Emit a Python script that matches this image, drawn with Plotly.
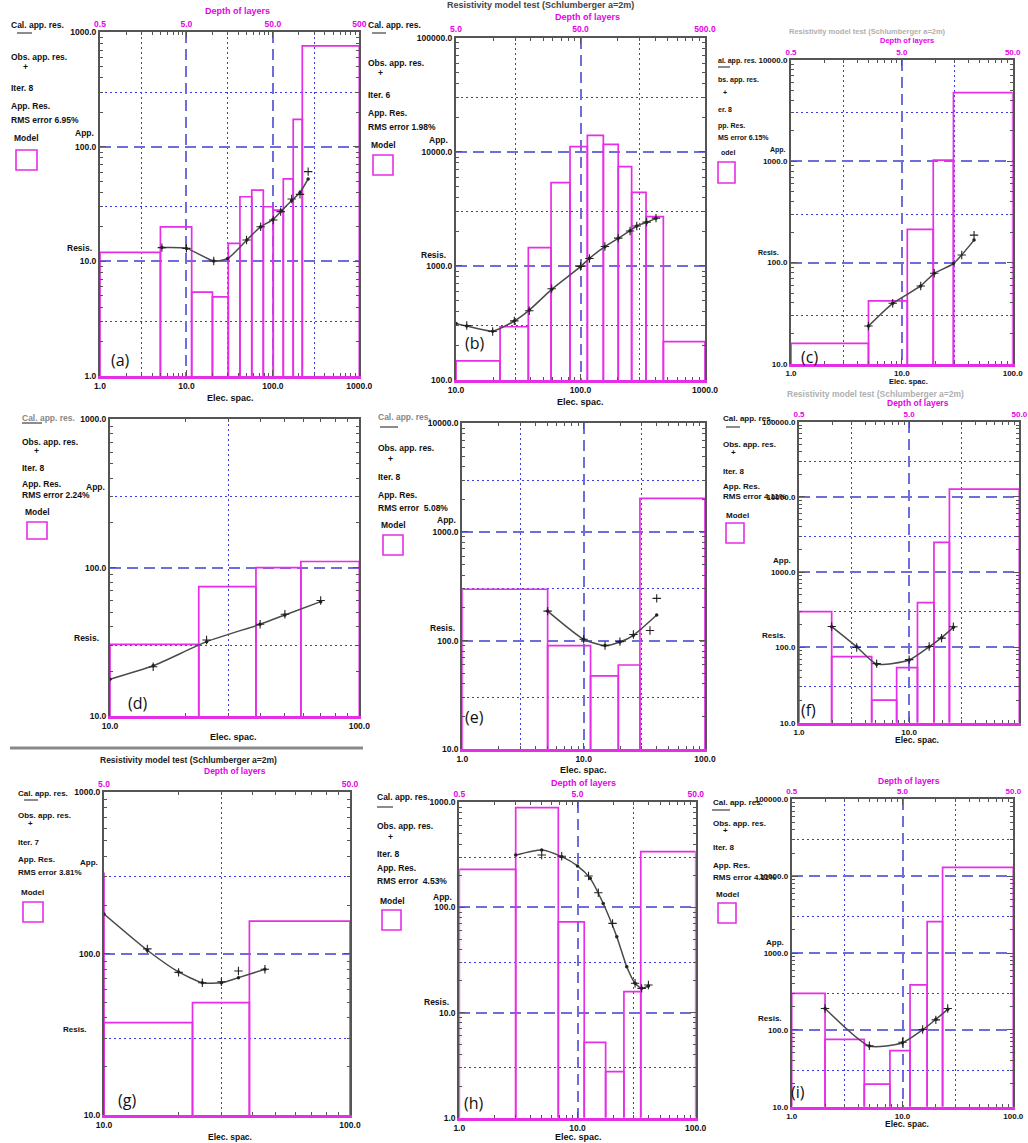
import plotly.graph_objects as go

W, H = 1028, 1143
FONT = "Liberation Sans, Arial, sans-serif"
MAG = "#e52ee5"
DASH_C = "#6d6ddc"
DOT_C = "#3b3bec"
FRAME_C = "#555555"
CAL_C = "#4a4a4a"

# ---------------- data ----------------
# layer edges are in electrode-spacing units (depth = spacing / 2)
A_EDGES = [1, 5.0, 11.5, 20, 30.5, 41.6, 57, 77.5, 101, 132, 172, 219, 1000]
A_RHO = [12, 20, 5.4, 4.9, 14.4, 36.7, 42, 30, 28, 52.5, 174, 760]
A_CAL_X = [5.2, 10, 20.7, 30, 50, 72, 100, 125, 165, 206, 256]
A_CAL_Y = [13.2, 13.0, 10.1, 10.6, 15.4, 20, 23.2, 27.5, 34, 40, 52.5]
A_OBS_X = [5.2, 10, 20.7, 49.6, 72.2, 101, 123, 165, 206, 256]
A_OBS_Y = [13.2, 13.0, 10.1, 15.4, 20.1, 23.0, 27.2, 35.1, 38.5, 60.8]
A_XTICK = ["1.0", "10.0", "100.0", "1000.0"]
A_DEPTH = ["0.5", "5.0", "50.0", "500"]
A_YTICK = ["1.0", "10.0", "100.0", "1000.0"]
A_LEGEND = ["Cal. app. res.", "Obs. app. res.", "Iter. 8", "App. Res.", "RMS error 6.95%", "Model"]

B_EDGES = [10, 22.6, 38.1, 58, 82.4, 113.5, 152.6, 201, 257.5, 336, 463, 1000]
B_RHO = [147, 293, 1445, 5360, 11090, 13930, 11620, 7400, 4410, 2700, 217]
B_CAL_X = [10, 12.2, 19.7, 29.4, 38.8, 58.7, 100, 118, 157, 201, 250, 283, 340, 404]
B_CAL_Y = [313, 297, 268, 329, 410, 623, 985, 1165, 1473, 1743, 2035, 2238, 2410, 2612]
B_OBS_X = [12.2, 19.7, 29.4, 38.8, 58.7, 100, 118, 157, 201, 250, 283, 340, 404]
B_OBS_Y = [300, 266, 330, 405, 630, 990, 1160, 1480, 1750, 2020, 2240, 2420, 2620]
B_XTICK = ["10.0", "100.0", "1000.0"]
B_DEPTH = ["5.0", "50.0", "500.0"]
B_YTICK = ["100.0", "1000.0", "10000.0", "100000.0"]
B_LEGEND = ["Cal. app. res.", "Obs. app. res.", "Iter. 6", "App. Res.", "RMS error 1.98%", "Model"]

C_EDGES = [1, 5.0, 11.2, 19.2, 29.2, 100]
C_RHO = [16, 42, 213, 1030, 4760]
C_CAL_X = [5.0, 8.27, 14.8, 19.6, 29.2, 44.8]
C_CAL_Y = [23.7, 39.7, 58.9, 78.5, 98, 167]
C_OBS_X = [5.0, 8.27, 14.8, 19.6, 34.7, 44.8]
C_OBS_Y = [23.7, 39.7, 58.9, 78.5, 119, 187]
C_XTICK = ["1.0", "10.0", "100.0"]
C_DEPTH = ["0.5", "5.0", "50.0"]
C_YTICK = ["10.0", "100.0", "1000.0", "10000.0"]
C_LEGEND = ["al. app. res.", "bs. app. res.", "er. 8", "pp. Res.", "MS error 6.15%", "odel"]

D_EDGES = [10, 22.7, 38.5, 58.3, 100]
D_RHO = [30.4, 74.5, 100, 110]
D_CAL_X = [10, 14.9, 24.4, 40, 50.3, 70]
D_CAL_Y = [17.7, 21.8, 31.7, 41.5, 48, 59]
D_OBS_X = [14.9, 24.4, 40, 50.3, 70]
D_OBS_Y = [21.5, 32.5, 41.5, 48.5, 60]
D_XTICK = ["10.0", "100.0"]
D_DEPTH = None
D_YTICK = ["10.0", "100.0", "1000.0"]
D_LEGEND = ["Cal. app. res.", "Obs. app. res.", "Iter. 8", "App. Res.", "RMS error 2.24%", "Model"]

E_EDGES = [1, 5.05, 11.4, 19.3, 29.1, 100]
E_RHO = [297, 90, 47.3, 59.7, 2040]
E_CAL_X = [5.05, 10, 15, 19.9, 25.7, 40]
E_CAL_Y = [187, 103, 90, 97, 112, 172]
E_OBS_X = [5.05, 10, 15, 19.9, 25.7, 35.2, 40]
E_OBS_Y = [187, 103, 90, 98, 114, 124, 245]
E_XTICK = ["1.0", "10.0", "100.0"]
E_DEPTH = None
E_YTICK = ["10.0", "100.0", "1000.0", "10000.0"]
E_LEGEND = ["Cal. app. res.", "Obs. app. res.", "Iter. 8", "App. Res.", "RMS error  5.08%", "Model"]

F_EDGES = [1, 1.98, 4.57, 7.7, 11.9, 16.8, 23.2, 100]
F_RHO = [300, 75.4, 20, 53.8, 393, 2490, 12740]
F_CAL_X = [1.98, 3.34, 5.07, 10, 15.2, 19.7, 25.2]
F_CAL_Y = [189, 102, 60, 68, 102, 135, 185]
F_OBS_X = [1.98, 3.34, 5.07, 10, 15.2, 19.7, 25.2]
F_OBS_Y = [190, 100, 61, 69, 103, 133, 188]
F_XTICK = ["1.0", "10.0", "100.0"]
F_DEPTH = ["0.5", "5.0", "50.0"]
F_YTICK = ["10.0", "100.0", "1000.0", "10000.0", "100000.0"]
F_LEGEND = ["Cal. app. res.", "Obs. app. res.", "Iter. 8", "App. Res.", "RMS error 4.11%", "Model"]

G_EDGES = [9, 10, 22.9, 39, 100]
G_RHO = [315, 37.4, 49.7, 159]
G_CAL_X = [10, 15, 20.1, 25.1, 30, 35.2, 45.1]
G_CAL_Y = [176, 105, 77, 66, 66, 71, 80]
G_OBS_X = [15, 20.1, 25.1, 30, 35.2, 45.1]
G_OBS_Y = [107, 76.6, 66, 67, 78, 80]
G_XTICK = ["10.0", "100.0"]
G_DEPTH = ["5.0", "50.0"]
G_YTICK = ["10.0", "100.0", "1000.0"]
G_LEGEND = ["Cal. app. res.", "Obs. app. res.", "Iter. 7", "App. Res.", "RMS error 3.81%", "Model"]

H_EDGES = [1, 3.0, 6.88, 11.4, 17.3, 24.7, 34.3, 100]
H_RHO = [230, 890, 73, 5.2, 2.74, 15.8, 339]
H_CAL_X = [3.0, 4.98, 7.35, 10, 12.8, 16.5, 21.5, 26.1, 30.7, 34.9, 39.8]
H_CAL_Y = [315, 352, 304, 248, 189, 109, 52.7, 27.3, 19, 17, 17.9]
H_OBS_X = [4.98, 7.35, 12.4, 15, 19.8, 30.7, 34.9, 39.8]
H_OBS_Y = [315, 307, 199, 138, 70.6, 19, 17, 18.3]
H_XTICK = ["1.0", "10.0", "100.0"]
H_DEPTH = ["0.5", "5.0", "50.0"]
H_YTICK = ["1.0", "10.0", "100.0", "1000.0"]
H_LEGEND = ["Cal. app. res.", "Obs. app. res.", "Iter. 8", "App. Res.", "RMS error  4.53%", "Model"]

I_EDGES = [1, 2.0, 4.52, 7.7, 11.7, 16.7, 23, 100]
I_RHO = [299, 75.2, 19.7, 53.6, 384, 2560, 13030]
I_CAL_X = [2.0, 5.02, 10, 15.2, 20, 25.6]
I_CAL_Y = [190, 61.6, 68, 100, 137, 185]
I_OBS_X = [2.0, 5.02, 10, 15.2, 20, 25.6]
I_OBS_Y = [190, 62, 69, 101, 135, 190]
I_XTICK = ["1.0", "10.0", "100.0"]
I_DEPTH = ["0.5", "5.0", "50.0"]
I_YTICK = ["10.0", "100.0", "1000.0", "10000.0", "100000.0"]
I_LEGEND = ["Cal. app. res.", "Obs. app. res.", "Iter. 8", "App. Res.", "RMS error 4.11%", "Model"]

TITLE = "Resistivity model test (Schlumberger a=2m)"
DEPTH_TITLE = "Depth of layers"
X_TITLE = "Elec. spac."
APP_LBL = "App."
RES_LBL = "Resis."

# ---------------- geometry (pixels in the 1028x1143 page) ----------------
GEOM = {
    "a": dict(box=(100, 32.3, 359.3, 376), xr=(0, 3), yr=(0, 3), leg_x=10, fs=8.5, ts=8.5,
              leg_y=(25, 33, 57, 67, 88, 106, 120, 138, 150, 170), ul=(17, 32), plus_x=25, bx=(16, 37),
              app=(95, 133), resis=(93, 248), elec=(230, 398), depth=(237, 11), title=None, letter=(120, 360)),
    "b": dict(box=(456, 37.7, 705, 380), xr=(1, 3), yr=(2, 5), leg_x=367, fs=8.5, ts=8.5,
              leg_y=(25, 33, 63, 73, 95, 113, 127, 145, 155, 175), ul=(372, 386), plus_x=380, bx=(373, 393),
              app=(449, 140), resis=(447, 255), elec=(580, 402), depth=(587, 17), title=(540, 5, "#444"),
              letter=(475, 343)),
    "c": dict(box=(791, 60, 1012.7, 364), xr=(0, 2), yr=(1, 4), leg_x=717, fs=7, ts=8,
              leg_y=(61, 67, 80, 92, 110, 126, 137, 153, 162, 183), ul=(718, 730), plus_x=725, bx=(718, 735),
              app=(787, 150), resis=(780, 253), elec=(908, 382), depth=(907, 41), title=(867, 31, "#b0b0b0"),
              letter=(809, 357)),
    "d": dict(box=(110, 419.3, 359.3, 716), xr=(1, 2), yr=(1, 3), leg_x=21, fs=8.5, ts=8.5,
              leg_y=(418, 423, 442, 451, 468, 484, 495, 512, 522, 539), ul=(22, 42), plus_x=36, bx=(27, 47),
              app=(106, 487), resis=(100, 638), elec=(233, 737), depth=None, title=None, letter=(138, 703)),
    "e": dict(box=(462.3, 423.3, 705, 749.3), xr=(0, 2), yr=(1, 4), leg_x=377, fs=8.5, ts=8.5,
              leg_y=(417, 427, 448, 459, 477, 495, 508, 525, 535, 555), ul=(380, 398), plus_x=390, bx=(383, 403),
              app=(457, 520), resis=(456, 628), elec=(583, 770), depth=None, title=None, letter=(474, 717)),
    "f": dict(box=(799, 421.7, 1019.3, 722.7), xr=(0, 2), yr=(1, 5), leg_x=722, fs=8, ts=8,
              leg_y=(418, 427, 444, 452, 471, 486, 497, 515, 523, 543), ul=(726, 740), plus_x=733, bx=(726, 744),
              app=(792, 560), resis=(787, 635), elec=(917, 740), depth=(918, 403), title=(875, 394, "#b0b0b0"),
              letter=(808, 710)),
    "g": dict(box=(104, 792.3, 350, 1115), xr=(1, 2), yr=(1, 3), leg_x=17, fs=8, ts=8.5,
              leg_y=(793, 800, 815, 823, 843, 859, 872, 892, 902, 922), ul=(24, 38), plus_x=30, bx=(23, 43),
              app=(99, 862), resis=(88, 1029), elec=(230, 1137), depth=(235, 771), title=(188, 760, "#222"),
              letter=(127, 1100)),
    "h": dict(box=(459.3, 802.3, 695.7, 1117.7), xr=(0, 2), yr=(0, 3), leg_x=376, fs=8.5, ts=8.5,
              leg_y=(797, 807, 826, 837, 854, 868, 881, 901, 910, 930), ul=(377, 393), plus_x=390, bx=(382, 401),
              app=(453, 897), resis=(450, 1002), elec=(578, 1137), depth=(583, 783), title=None,
              letter=(474, 1103)),
    "i": dict(box=(791.7, 799.3, 1013.3, 1106.7), xr=(0, 2), yr=(1, 5), leg_x=712, fs=8, ts=8,
              leg_y=(802, 810, 823, 830, 847, 865, 877, 894, 903, 923), ul=(712, 730), plus_x=725, bx=(718, 736),
              app=(785, 942), resis=(783, 1018), elec=(907, 1124), depth=(909, 781), title=None,
              letter=(798, 1092)),
}

PANELS = [
    ("a", A_EDGES, A_RHO, A_CAL_X, A_CAL_Y, A_OBS_X, A_OBS_Y, A_XTICK, A_DEPTH, A_YTICK, A_LEGEND),
    ("b", B_EDGES, B_RHO, B_CAL_X, B_CAL_Y, B_OBS_X, B_OBS_Y, B_XTICK, B_DEPTH, B_YTICK, B_LEGEND),
    ("c", C_EDGES, C_RHO, C_CAL_X, C_CAL_Y, C_OBS_X, C_OBS_Y, C_XTICK, C_DEPTH, C_YTICK, C_LEGEND),
    ("d", D_EDGES, D_RHO, D_CAL_X, D_CAL_Y, D_OBS_X, D_OBS_Y, D_XTICK, D_DEPTH, D_YTICK, D_LEGEND),
    ("e", E_EDGES, E_RHO, E_CAL_X, E_CAL_Y, E_OBS_X, E_OBS_Y, E_XTICK, E_DEPTH, E_YTICK, E_LEGEND),
    ("f", F_EDGES, F_RHO, F_CAL_X, F_CAL_Y, F_OBS_X, F_OBS_Y, F_XTICK, F_DEPTH, F_YTICK, F_LEGEND),
    ("g", G_EDGES, G_RHO, G_CAL_X, G_CAL_Y, G_OBS_X, G_OBS_Y, G_XTICK, G_DEPTH, G_YTICK, G_LEGEND),
    ("h", H_EDGES, H_RHO, H_CAL_X, H_CAL_Y, H_OBS_X, H_OBS_Y, H_XTICK, H_DEPTH, H_YTICK, H_LEGEND),
    ("i", I_EDGES, I_RHO, I_CAL_X, I_CAL_Y, I_OBS_X, I_OBS_Y, I_XTICK, I_DEPTH, I_YTICK, I_LEGEND),
]

fig = go.Figure()
annotations = []
shapes = []
axes = {}


def px(x):
    return x / W


def py(y):
    return 1 - y / H


def text(x, y, s, size=8, color="#111", xanchor="left", weight="bold", family=FONT):
    annotations.append(dict(x=px(x), y=py(y), xref="paper", yref="paper", text=s, showarrow=False,
                            xanchor=xanchor, yanchor="middle", borderpad=0,
                            font=dict(family=family, size=size, color=color, weight=weight)))


def sfx(k):
    return "" if k == 1 else str(k)


def decades(lo, hi):
    return [10 ** d for d in range(lo, hi + 1)]


def minors(lo, hi, mults):
    return [m * 10 ** d for d in range(lo, hi) for m in mults]


for k, (key, edges, rho, cx, cy, ox, oy, xt, dt, yt, leg) in enumerate(PANELS, start=1):
    g = GEOM[key]
    L, T, R, B = g["box"]
    xr, yr = g["xr"], g["yr"]
    fs, ts = g["fs"], g["ts"]
    tickfont = dict(family=FONT, size=ts, color="#111", weight="bold")
    xa, ya = "x" + sfx(k), "y" + sfx(k)
    xa_top, xa_bot, ya_r = "x" + str(k + 9), "x" + str(k + 18), "y" + str(k + 9)
    ymin = 10 ** yr[0]

    # model layers
    mx, my = [], []
    for i, r in enumerate(rho):
        x0, x1 = edges[i], edges[i + 1]
        mx += [x0, x0, x1, x1, None]
        my += [ymin, r, r, ymin, None]
    fig.add_trace(go.Scatter(x=mx, y=my, mode="lines", xaxis=xa, yaxis=ya,
                             line=dict(color=MAG, width=1.7), hoverinfo="skip"))
    # calculated curve
    fig.add_trace(go.Scatter(x=cx, y=cy, mode="lines+markers", xaxis=xa, yaxis=ya,
                             line=dict(color=CAL_C, width=1.5, shape="spline", smoothing=0.6),
                             marker=dict(size=3.5, color="#222")))
    # observed
    fig.add_trace(go.Scatter(x=ox, y=oy, mode="markers", xaxis=xa, yaxis=ya,
                             marker=dict(symbol="cross-thin", size=6, line=dict(width=1.1, color="#222"))))
    # transparent anchors so the frame / tick axes get drawn
    for axx, axy in ((xa_top, ya), (xa_bot, ya), (xa, ya_r)):
        fig.add_trace(go.Scatter(x=ox[:1], y=oy[:1], mode="markers", xaxis=axx, yaxis=axy,
                                 marker=dict(opacity=0), hoverinfo="skip"))

    xdec = decades(xr[0], xr[1])
    ydec = decades(yr[0], yr[1])
    xdom = [px(L), px(R)]
    ydom = [py(B), py(T)]

    axes["xaxis" + sfx(k)] = dict(
        type="log", range=list(xr), domain=xdom, anchor=ya, side="bottom",
        tickmode="array", tickvals=xdec, ticktext=xt, tickfont=tickfont, ticks="",
        showline=True, linecolor=MAG, linewidth=2.5,
        showgrid=True, gridcolor=DASH_C, griddash="11px,6px", gridwidth=1.7,
        minor=dict(tickmode="array", tickvals=minors(xr[0], xr[1], [3]), showgrid=True,
                   gridcolor=DOT_C, griddash="2px,3px", gridwidth=1.3, ticks=""),
        zeroline=False, fixedrange=True)
    axes["xaxis" + str(k + 9)] = dict(
        type="log", range=list(xr), anchor=ya, overlaying=xa, side="top",
        tickmode="array", tickvals=xdec, ticktext=dt if dt else [""] * len(xdec),
        showticklabels=dt is not None,
        tickfont=dict(family=FONT, size=ts, color="#e600e6", weight="bold"),
        ticks="inside", ticklen=6, tickcolor=FRAME_C, tickwidth=1,
        showline=True, linecolor=FRAME_C, linewidth=2, showgrid=False,
        minor=dict(tickmode="array", tickvals=minors(xr[0], xr[1], range(2, 10)), ticks="inside",
                   ticklen=3, tickcolor=FRAME_C, showgrid=False),
        zeroline=False, fixedrange=True)
    axes["xaxis" + str(k + 18)] = dict(
        type="log", range=list(xr), anchor=ya, overlaying=xa, side="bottom",
        tickmode="array", tickvals=xdec, showticklabels=False,
        ticks="inside", ticklen=6, tickcolor=FRAME_C, tickwidth=1,
        showline=False, showgrid=False,
        minor=dict(tickmode="array", tickvals=minors(xr[0], xr[1], range(2, 10)), ticks="inside",
                   ticklen=3, tickcolor=FRAME_C, showgrid=False),
        zeroline=False, fixedrange=True)
    axes["yaxis" + sfx(k)] = dict(
        type="log", range=list(yr), domain=ydom, anchor=xa, side="left",
        tickmode="array", tickvals=ydec, ticktext=yt, tickfont=tickfont, ticks="",
        showline=True, linecolor=FRAME_C, linewidth=2,
        showgrid=True, gridcolor=DASH_C, griddash="11px,6px", gridwidth=1.7,
        minor=dict(tickmode="array", tickvals=minors(yr[0], yr[1], [3]), showgrid=True,
                   gridcolor=DOT_C, griddash="2px,3px", gridwidth=1.3, ticks=""),
        zeroline=False, fixedrange=True)
    axes["yaxis" + str(k + 9)] = dict(
        type="log", range=list(yr), anchor=xa, overlaying=ya, side="right",
        tickmode="array", tickvals=ydec, showticklabels=False,
        ticks="inside", ticklen=6, tickcolor=FRAME_C, tickwidth=1, mirror="ticks",
        showline=True, linecolor=FRAME_C, linewidth=2, showgrid=False,
        minor=dict(tickmode="array", tickvals=minors(yr[0], yr[1], range(2, 10)), ticks="inside",
                   ticklen=3, tickcolor=FRAME_C, showgrid=False),
        zeroline=False, fixedrange=True)

    # legend block
    lx = g["leg_x"]
    (y_cal, y_ul, y_obs, y_plus, y_iter, y_ares, y_rms, y_model, b_top, b_bot) = g["leg_y"]
    text(lx, y_cal, leg[0], size=fs, color="#888" if key in ("d", "e") else "#111")
    shapes.append(dict(type="line", xref="paper", yref="paper", x0=px(g["ul"][0]), x1=px(g["ul"][1]),
                       y0=py(y_ul), y1=py(y_ul), line=dict(color="#666", width=1.5)))
    text(lx, y_obs, leg[1], size=fs)
    text(g["plus_x"], y_plus, "+", xanchor="center", size=fs)
    text(lx, y_iter, leg[2], size=fs)
    text(lx, y_ares, leg[3], size=fs)
    text(lx, y_rms, leg[4], size=fs)
    text(lx + 3, y_model, leg[5], size=fs)
    shapes.append(dict(type="rect", xref="paper", yref="paper", x0=px(g["bx"][0]), x1=px(g["bx"][1]),
                       y0=py(b_bot), y1=py(b_top), line=dict(color=MAG, width=1.6)))

    text(g["app"][0], g["app"][1], APP_LBL, xanchor="right", size=fs)
    text(g["resis"][0], g["resis"][1], RES_LBL, xanchor="right", size=fs)
    text(g["elec"][0], g["elec"][1], X_TITLE, xanchor="center", size=fs + 0.5)
    if g["depth"]:
        text(g["depth"][0], g["depth"][1], DEPTH_TITLE, xanchor="center", color="#e600e6", size=fs + 0.5)
    if g["title"]:
        text(g["title"][0], g["title"][1], TITLE, xanchor="center", color=g["title"][2], size=fs + 0.5)
    text(g["letter"][0], g["letter"][1], "(" + key + ")", xanchor="center", weight="normal",
         family="Open Sans, Noto Sans, sans-serif", size=16, color="#111")

shapes.append(dict(type="line", xref="paper", yref="paper", x0=px(10), x1=px(363), y0=py(748), y1=py(748),
                   line=dict(color="#8a8a8a", width=3)))

fig.update_layout(
    width=W, height=H, autosize=False,
    margin=dict(l=0, r=0, t=0, b=0, pad=0, autoexpand=False),
    paper_bgcolor="white", plot_bgcolor="white",
    showlegend=False,
    annotations=annotations, shapes=shapes,
    **axes,
)

fig.write_html("out.html", config={"displayModeBar": False},
               post_script="document.body.style.margin='0';document.body.style.overflow='hidden';")
